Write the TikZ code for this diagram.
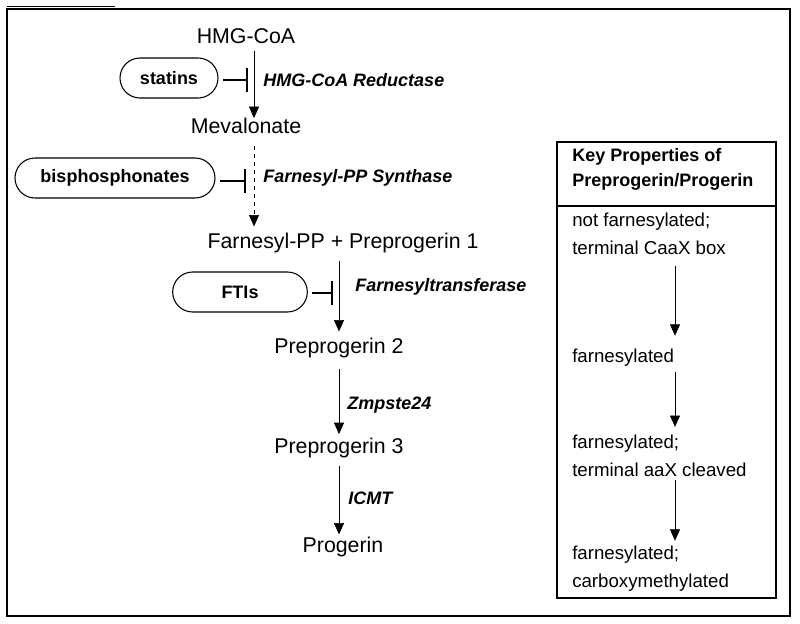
\documentclass[tikz,border=0pt]{standalone}
\usepackage{fontspec}
\setmainfont{Liberation Sans}
\usepackage{tikz}
\usetikzlibrary{arrows,arrows.meta}
\tikzstyle{every picture}+=[remember picture]
\tikzstyle{compound} = [font=\fontsize{16}{19}\selectfont, inner sep=0pt, text height=11.5pt, text depth=3pt]
\tikzstyle{enzyme} = [font=\fontsize{13.5}{16}\bfseries\itshape, anchor=west, inner sep=0pt]
\tikzstyle{drug} = [draw=black, thick, rounded corners=15pt, font=\fontsize{13.5}{16}\bfseries, minimum height=30pt]
\tikzstyle{prop} = [font=\fontsize{14}{21}\selectfont, align=left, anchor=west, inner sep=0pt]
\tikzstyle{conv} = [-{Triangle[width=7.5pt,length=8.5pt]}, thin]
\tikzstyle{inhib} = [-{Bar[width=18pt,line width=1.8pt]}, line width=2.2pt, shorten <=3pt]

\begin{document}
\begin{tikzpicture}[x=0.75pt, y=-0.75pt]
    \useasboundingbox (0,0) rectangle (800,624);
    \draw[line width=1.2pt] (7,9) rectangle (790,616);
    \draw[line width=1.2pt] (7,6.5) -- (115,6.5);

    \coordinate (colA) at (254,0);
    \coordinate (colB) at (339,0);
    \coordinate (colK) at (675,0);

    \node[compound] (hmg) at (246,38) {HMG-CoA};
    \node[compound] (mev) at (246,128) {Mevalonate};
    \node[compound] (fpp) at (343,243) {Farnesyl-PP + Preprogerin 1};
    \node[compound] (pp2) at (339,348) {Preprogerin 2};
    \node[compound] (pp3) at (339,448) {Preprogerin 3};
    \node[compound] (prog) at (343,547) {Progerin};

    \draw[conv] ([yshift=-2pt]hmg.south -| colA) -- (mev.north -| colA);
    \draw[conv, dashed] ([yshift=-6pt]mev.south -| colA) -- ([yshift=5pt]fpp.north -| colA);
    \draw[conv] ([yshift=-6pt]fpp.south -| colB) -- ([yshift=5pt]pp2.north -| colB);
    \draw[conv] ([yshift=-8pt]pp2.south -| colB) -- ([yshift=3pt]pp3.north -| colB);
    \draw[conv] ([yshift=-6pt]pp3.south -| colB) -- ([yshift=2pt]prog.north -| colB);

    \node[enzyme] (hmgr) at (263,80) {HMG-CoA Reductase};
    \node[enzyme] (fpps) at (263,178) {Farnesyl-PP Synthase};
    \node[enzyme] (ftase) at (355,287) {Farnesyltransferase};
    \node[enzyme] (zmp) at (347,405) {Zmpste24};
    \node[enzyme] (icmt) at (348,498) {ICMT};

    \node[drug, minimum width=73.5pt] (statins) at (169,78) {statins};
    \node[drug, minimum width=150pt] (bisph) at (115,178) {bisphosphonates};
    \node[drug, minimum width=101pt] (ftis) at (240,292) {FTIs};

    \coordinate (stop1) at (248,80);
    \coordinate (stop2) at (246,181);
    \coordinate (stop3) at (333,293);
    \draw[inhib] (statins.east |- stop1) -- (stop1);
    \draw[inhib] (bisph.east |- stop2) -- (stop2);
    \draw[inhib] (ftis.east |- stop3) -- (stop3);

    \draw[thick] (557,142) rectangle (776,598);
    \draw[thick] (557,206) -- (776,206);
    \node[prop, font=\fontsize{13.5}{18.75}\bfseries, anchor=north west] (keyhead) at (572,148) {Key Properties of\\Preprogerin/Progerin};
    \node[prop] (p1) at (572,234) {not farnesylated;\\terminal CaaX box};
    \node[prop] (p2) at (572,358) {farnesylated};
    \node[prop] (p3) at (572,456) {farnesylated;\\terminal aaX cleaved};
    \node[prop] (p4) at (572,569) {farnesylated;\\carboxymethylated};

    \draw[conv] ([yshift=-8pt]p1.south -| colK) -- ([yshift=10pt]p2.north -| colK);
    \draw[conv] ([yshift=-4pt]p2.south -| colK) -- ([yshift=6pt]p3.north -| colK);
    \draw[conv] ([yshift=-2pt]p3.south -| colK) -- ([yshift=4pt]p4.north -| colK);
  \end{tikzpicture}
\end{document}
